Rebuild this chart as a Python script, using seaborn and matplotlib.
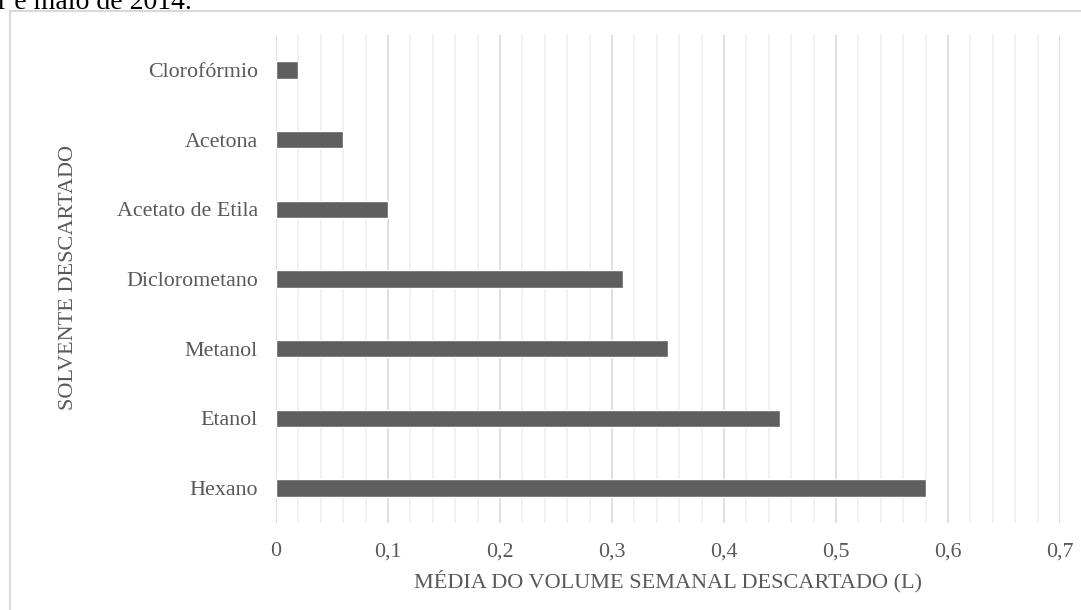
import matplotlib
matplotlib.use("Agg")
import matplotlib.pyplot as plt
import seaborn as sns
import pandas as pd
from matplotlib.patches import Rectangle
from matplotlib.ticker import MultipleLocator

solventes = ["Clorofórmio", "Acetona", "Acetato de Etila", "Diclorometano",
             "Metanol", "Etanol", "Hexano"]
volumes = [0.02, 0.06, 0.10, 0.31, 0.35, 0.45, 0.58]
x_ticks = [0, 0.1, 0.2, 0.3, 0.4, 0.5, 0.6, 0.7]
x_tick_labels = ["0", "0,1", "0,2", "0,3", "0,4", "0,5", "0,6", "0,7"]

df = pd.DataFrame({"solvente": solventes, "volume": volumes})

sns.set_style("white")
plt.rcParams["font.family"] = ["Liberation Serif", "DejaVu Serif"]

text_color = "#595959"
fig = plt.figure(figsize=(10.81, 6.10), dpi=100)
ax = fig.add_axes([276/1081, 1 - 523/610, (1060 - 276)/1081, (523 - 35)/610])

ax.set_axisbelow(True)
sns.barplot(data=df, x="volume", y="solvente", order=solventes, orient="h",
            color="#5f5f5f", width=0.25, saturation=1, ax=ax)

ax.set_xlim(0, 0.7)
ax.set_xticks(x_ticks)
ax.set_xticklabels(x_tick_labels)
ax.xaxis.set_minor_locator(MultipleLocator(0.02))
ax.grid(True, axis="x", which="major", color="#d9d9d9", linewidth=1.2)
ax.grid(True, axis="x", which="minor", color="#efefef", linewidth=1.2)
ax.grid(False, axis="y")
for s in ax.spines.values():
    s.set_visible(False)
ax.tick_params(axis="both", which="both", length=0, labelsize=15.8,
               labelcolor=text_color)
ax.tick_params(axis="y", pad=13)
ax.tick_params(axis="x", pad=14)

ax.set_xlabel("MÉDIA DO VOLUME SEMANAL DESCARTADO (L)", fontsize=16,
              color=text_color, labelpad=6)
ax.set_ylabel("SOLVENTE DESCARTADO", fontsize=16, color=text_color)
ax.yaxis.set_label_coords(78/1081, 1 - 278/610, transform=fig.transFigure)

# figure frame (chart area border)
fig.patches.append(Rectangle((10/1081, -0.1), 1.2, (1 - 11/610) + 0.1,
                             transform=fig.transFigure, fill=False,
                             edgecolor="#d9d9d9", linewidth=1.5))

# cropped caption text at top
fig.text(-2/1081, 1 - 9/610, "r e maio de 2014.", fontsize=20, color="black",
         ha="left", va="baseline")

fig.savefig("out.png", dpi=100)
